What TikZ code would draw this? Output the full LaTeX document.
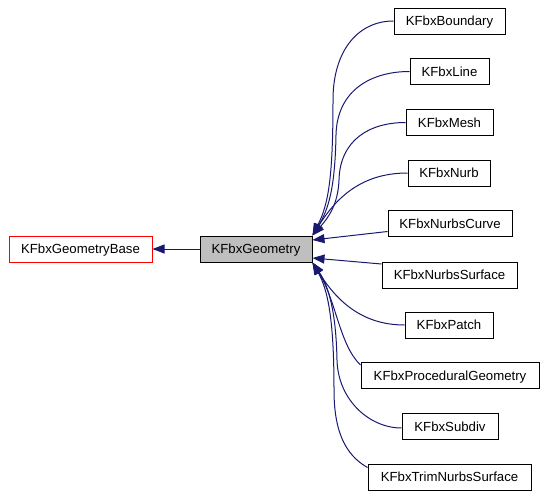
\documentclass[tikz,border=0pt]{standalone}
\usepackage{fontspec}
\setmainfont{Liberation Sans}
\usetikzlibrary{arrows.meta,calc}
\definecolor{edgeblue}{HTML}{191970}
\definecolor{geofill}{HTML}{BFBFBF}
\begin{document}
\begin{tikzpicture}[x=1pt,y=-1pt,
  box/.style={draw=black,line width=1pt,inner sep=0pt,minimum height=26pt,
    text height=10pt,text depth=1pt,font=\fontsize{13.2}{15}\selectfont},
  edge/.style={draw=edgeblue,line width=1pt,-{Triangle[length=12pt,width=9pt]}}]
\useasboundingbox (0,0) rectangle (546,498);
\node[box,draw=red,minimum width=143pt] (base) at (80.5,249) {KFbxGeometryBase};
\node[box,fill=geofill,minimum width=112pt] (geo) at (256,249) {KFbxGeometry};
\node[box,minimum width=111pt] (bnd) at (449.5,21) {KFbxBoundary};
\node[box,minimum width=79pt] (line) at (449.5,71.5) {KFbxLine};
\node[box,minimum width=87pt] (mesh) at (449.5,122.5) {KFbxMesh};
\node[box,minimum width=82pt] (nurb) at (449,173) {KFbxNurb};
\node[box,minimum width=124pt] (nc) at (450,223.5) {KFbxNurbsCurve};
\node[box,minimum width=135pt] (ns) at (449.5,275) {KFbxNurbsSurface};
\node[box,minimum width=88pt] (patch) at (449,325) {KFbxPatch};
\node[box,minimum width=178pt] (proc) at (450,375.5) {KFbxProceduralGeometry};
\node[box,minimum width=96pt] (subdiv) at (450,426.5) {KFbxSubdiv};
\node[box,minimum width=163pt] (trim) at (449.5,477) {KFbxTrimNurbsSurface};

\draw[edge] (geo.west) -- (base.east);
\draw[edge] (bnd.west) .. controls +(-35,0) and (333,50) .. (333,100)
  .. controls (333,180) and (328,205) .. (geo.north east);
\draw[edge] (line.west) .. controls +(-38,0) and (337,90) .. (336,135)
  .. controls (335,190) and (328,210) .. (geo.north east);
\draw[edge] (mesh.west) .. controls +(-36,0) and (340,140) .. (339,180)
  .. controls (338,205) and (328,218) .. (geo.north east);
\draw[edge] (nurb.west) .. controls +(-48,0) and (335,200) .. (geo.north east);
\draw[edge] ($(nc.west)+(0,8)$) -- ($(geo.east)+(0,-9)$);
\draw[edge] ($(ns.west)+(0,-11)$) -- ($(geo.east)+(0,9)$);
\draw[edge] (patch.west) .. controls +(-45,0) and (335,298) .. (geo.south east);
\draw[edge] ($(proc.north west)+(0,3)$) .. controls +(-21,-20) and (336,300) .. (geo.south east);
\draw[edge] ($(subdiv.west)+(0,1.5)$) .. controls +(-32,0) and (338,400) .. (337,360)
  .. controls (336,310) and (328,285) .. (geo.south east);
\draw[edge] ($(trim.north west)+(0,4)$) .. controls +(-23,-13) and (334,430) .. (334,390)
  .. controls (334,320) and (328,290) .. (geo.south east);
\end{tikzpicture}
\end{document}
